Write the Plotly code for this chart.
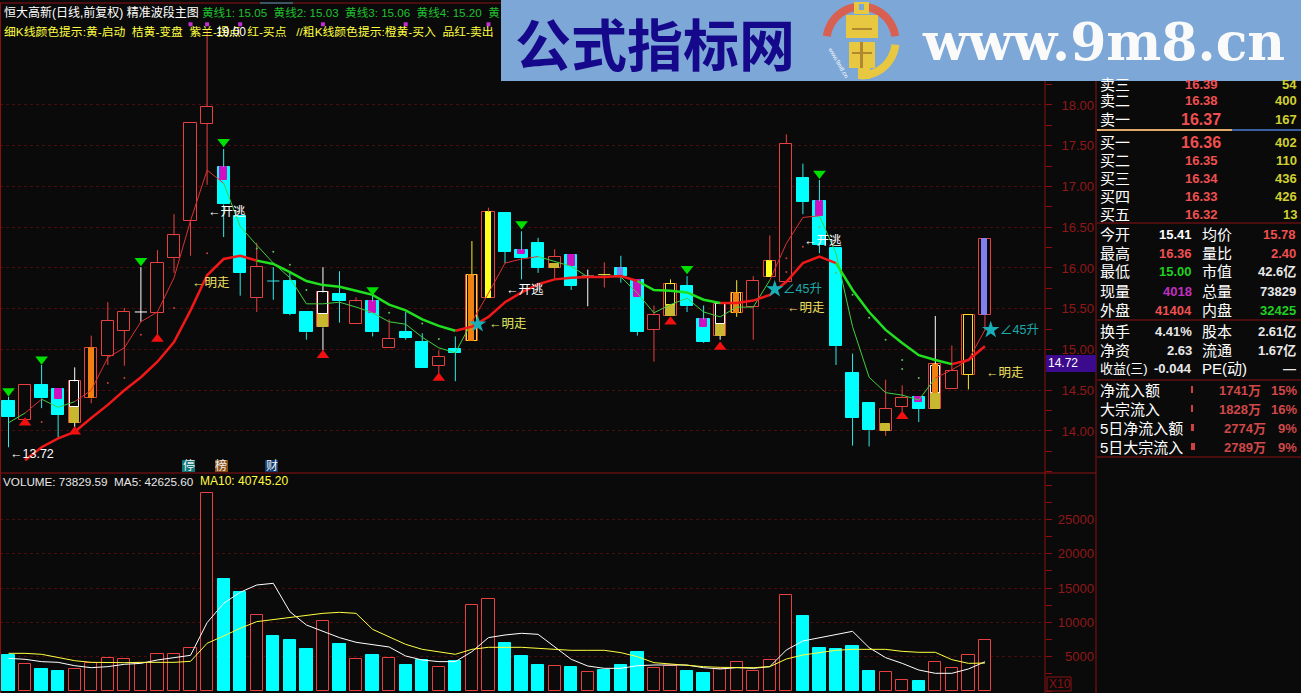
import math
import numpy as np
import plotly.graph_objects as go

W, H = 1301, 693
BG = "#0a0a0a"
CANDLE_RED = "#e84040"
CYAN = "#00ffff"
AXIS_RED = "#8c1010"
GRID_RED = "#4a0c0c"
FONT = "Liberation Sans, Noto Sans CJK SC"

# price candles, index 0 is the first bar on the left
body_top = [14.37, 14.56, 14.56, 14.51, 14.61, 15.02, 15.35, 15.46, 15.46, 16.06,
            16.40, 17.78, 17.98, 17.24, 16.64, 16.01, 15.84, 15.84, 15.46, 15.70,
            15.68, 15.59, 15.59, 15.13, 15.21, 15.09, 14.91, 15.00, 15.91, 16.69,
            16.67, 16.22, 16.31, 16.14, 16.16, 15.90, 15.92, 16.00, 15.85, 15.42,
            15.80, 15.78, 15.37, 15.56, 15.69, 15.84, 16.09, 17.52, 17.10, 16.82,
            16.24, 14.71, 14.34, 14.27, 14.41, 14.42, 14.82, 14.74, 15.42, 16.36]
body_bottom = [14.17, 14.14, 14.40, 14.20, 14.10, 14.40, 14.92, 15.23, 15.46, 15.45,
               16.12, 16.58, 17.77, 16.78, 15.94, 15.63, 15.84, 15.44, 15.21, 15.27,
               15.59, 15.31, 15.21, 15.02, 15.14, 14.77, 14.80, 14.96, 15.10, 15.63,
               16.20, 16.12, 16.00, 16.00, 15.78, 15.90, 15.92, 15.90, 15.22, 15.24,
               15.41, 15.53, 15.09, 15.17, 15.45, 15.52, 15.89, 15.83, 16.81, 16.28,
               15.04, 14.16, 14.01, 14.00, 14.30, 14.27, 14.27, 14.52, 14.69, 15.42]
high = [14.42, 14.56, 14.81, 14.51, 14.78, 15.17, 15.58, 15.51, 16.01, 16.22,
        16.66, 17.78, 18.92, 17.46, 16.64, 16.31, 16.01, 15.95, 15.46, 16.01,
        15.96, 15.64, 15.67, 15.37, 15.46, 15.20, 14.99, 15.16, 16.33, 16.74,
        16.67, 16.45, 16.37, 16.23, 16.16, 15.98, 16.07, 16.15, 15.85, 15.54,
        15.86, 15.90, 15.54, 15.56, 15.85, 15.90, 16.40, 17.64, 17.28, 17.08,
        16.24, 14.95, 14.34, 14.63, 14.56, 14.42, 15.41, 15.05, 15.42, 16.36]
low = [13.80, 14.14, 14.28, 13.90, 14.04, 14.34, 14.81, 14.80, 15.34, 15.18,
       15.94, 16.15, 17.02, 16.38, 15.66, 15.46, 15.61, 15.42, 15.12, 14.99,
       15.33, 15.31, 15.16, 15.02, 15.12, 14.77, 14.71, 14.61, 15.10, 15.63,
       16.06, 15.86, 15.94, 15.86, 15.73, 15.53, 15.76, 15.82, 15.17, 14.85,
       15.41, 15.46, 15.08, 15.12, 15.40, 15.12, 15.89, 15.83, 16.66, 16.18,
       14.81, 13.82, 13.81, 13.94, 14.24, 14.11, 14.27, 14.52, 14.51, 15.23]
falling_bars = [0, 2, 3, 13, 14, 16, 17, 18, 20, 22, 24, 25, 27, 30, 31, 32, 34, 37, 38,
                41, 42, 48, 49, 50, 51, 52, 55]
white_wick_bars = [4, 8, 19, 35, 43, 56]
yellow_wick_bars = [28, 40, 44, 58]
flat_bars = [8, 16, 35, 36]

# coloured parts inside the candles: bar index, upper price, lower price
magenta_parts = [(3, 14.51, 14.39), (13, 17.24, 17.08), (22, 15.59, 15.45), (31, 16.22, 16.17),
                 (34, 16.16, 16.02), (38, 15.85, 15.64), (42, 15.37, 15.28), (49, 16.82, 16.64),
                 (55, 14.42, 14.36)]
gold_parts = [(4, 14.29, 14.10), (19, 15.43, 15.27), (33, 16.05, 16.00), (40, 15.55, 15.41),
              (43, 15.31, 15.17), (53, 14.09, 14.00), (56, 14.46, 14.27)]
white_parts = [(4, 14.61, 14.29), (19, 15.70, 15.43), (43, 15.56, 15.31), (56, 14.80, 14.46)]
yellow_parts = [(28, 15.91, 15.10), (40, 15.80, 15.55), (44, 15.69, 15.45), (58, 15.42, 14.69)]
orange_stripes = [(5, 15.02, 14.40), (28, 15.91, 15.10), (44, 15.69, 15.45), (56, 14.82, 14.46)]
yellow_stripes = [(29, 16.69, 15.63), (46, 16.09, 15.89)]
blue_stripes = [(37, 16.00, 15.90), (59, 16.36, 15.42)]

# moving lines on the price panel
thin_line = [14.10, 14.22, 14.39, 14.29, 14.36, 14.50, 14.90, 15.02, 15.34, 15.46,
             15.88, 16.58, 17.20, 17.04, 16.51, 16.28, 16.06, 15.88, 15.56, 15.56,
             15.58, 15.52, 15.45, 15.34, 15.31, 15.15, 15.02, 14.96, 15.34, 15.69,
             16.06, 16.11, 16.14, 16.08, 16.02, 15.89, 15.90, 15.89, 15.69, 15.45,
             15.55, 15.63, 15.46, 15.40, 15.52, 15.52, 15.85, 16.30, 16.62, 16.64,
             16.18, 15.28, 14.66, 14.47, 14.44, 14.38, 14.65, 14.75, 14.87, 15.24]
thin_red_runs = [(1, 2), (4, 13), (28, 32), (46, 49), (56, 59)]
thin_green_runs = [(0, 1), (2, 4), (13, 28), (32, 46), (49, 56)]
thick_line = [None, 13.64, 13.80, 13.91, 13.99, 14.16, 14.32, 14.50, 14.66, 14.85,
              15.09, 15.48, 15.91, 16.11, 16.15, 16.09, 16.05, 15.95, 15.84, 15.79,
              15.77, 15.72, 15.67, 15.55, 15.48, 15.37, 15.29, 15.23, 15.28, 15.40,
              15.58, 15.70, 15.80, 15.86, 15.88, 15.89, 15.89, 15.90, 15.84, 15.73,
              15.72, 15.70, 15.61, 15.57, 15.57, 15.60, 15.67, 15.83, 16.06, 16.14,
              16.06, 15.73, 15.46, 15.24, 15.08, 14.93, 14.87, 14.82, 14.87, 15.04]
thick_red_runs = [(1, 15), (27, 38), (43, 50), (57, 59)]
thick_green_runs = [(15, 27), (38, 43), (50, 57)]

# faint dots between the lines
green_dot_bars = [15, 16, 17, 18, 23, 25, 26, 49, 50, 51, 52, 53, 54, 54, 55]
green_dot_prices = [16.24, 16.20, 16.04, 15.73, 15.45, 15.32, 15.13, 16.50, 15.94, 15.67, 15.39, 15.12, 14.87, 14.76, 14.65]
red_dot_bars = [2, 7, 6, 8, 10, 12, 47, 47, 48]
red_dot_prices = [14.11, 14.65, 14.59, 15.18, 15.51, 16.18, 16.12, 15.95, 16.26]

# signals
sell_bars = [0, 2, 8, 13, 22, 31, 41, 49]
sell_prices = [14.49, 14.88, 16.09, 17.55, 15.73, 16.54, 15.99, 17.16]
buy_bars = [1, 4, 9, 19, 26, 40, 43, 54]
buy_prices = [14.10, 13.99, 15.13, 14.93, 14.65, 15.34, 15.03, 14.18]
star_bars = [28.35, 46.3, 59.35]
star_prices = [15.31, 15.74, 15.24]
top_mark_bars = [11, 12, 14, 19, 24, 29]
top_mark_price = 18.99
chart_labels = [(0, 13.72, "←13.72", "#ffffff"), (12, 16.69, "←开逃", "#ffffff"),
                (11, 15.82, "←明走", "#f0e060"), (29, 15.31, "←明走", "#e0e860"),
                (30, 15.73, "←开逃", "#ffffff"), (46.75, 15.74, "∠45升", "#20a8a8"),
                (47, 15.51, "←明走", "#f0e060"), (48, 16.33, "←开逃", "#ffffff"),
                (59.85, 15.24, "∠45升", "#20a8a8"), (59, 14.71, "←明走", "#f0e060")]

# volume panel
volume = [5250, 3890, 3210, 2920, 3160, 4130, 4760, 4620, 4130, 5350,
          5350, 6220, 28820, 16330, 14430, 11030, 8020, 7440, 6120, 10250,
          6850, 4620, 5250, 4760, 3790, 4520, 3450, 4370, 12490, 13365,
          7000, 5100, 3790, 3600, 3500, 2720, 3110, 3790, 5690, 3300,
          3690, 2920, 2620, 3210, 4180, 2920, 4470, 13950, 10935, 6270,
          6120, 6560, 2920, 2720, 1555, 1460, 4180, 3300, 5200, 7383]
ma5 = [4760, 4620, 4280, 4180, 3690, 3400, 3550, 3890, 4030, 4520,
       4860, 5200, 9960, 12780, 14390, 15450, 15700, 11570, 9620, 8650,
       7780, 7100, 6710, 6415, 5100, 4520, 4280, 4280, 5735, 7780,
       8165, 8410, 8260, 6465, 4620, 3645, 3305, 3305, 3690, 3790,
       3790, 3790, 3400, 3210, 3400, 3305, 3550, 5980, 7290, 7780,
       8310, 8700, 6320, 4860, 4030, 3060, 2580, 2580, 3210, 4263]
ma10 = [5490, 5490, 5350, 4860, 4420, 4180, 4130, 4130, 4180, 4180,
        4180, 4325, 6950, 8020, 9140, 10110, 10400, 10740, 10980, 11320,
        11470, 11320, 8990, 7920, 6800, 6075, 5735, 5350, 6075, 6370,
        6370, 6370, 6220, 6075, 5930, 5930, 5930, 5590, 5000, 4130,
        3940, 3690, 3550, 3450, 3400, 3400, 3550, 4665, 5250, 5640,
        5930, 6075, 6075, 6075, 5780, 5640, 5640, 4570, 4030, 4075]
volume_ticks = [5000, 10000, 15000, 20000, 25000]
price_ticks = [14.0, 14.5, 15.0, 15.5, 16.0, 16.5, 17.0, 17.5, 18.0]

# quote panel text
ask_rows = [("卖三", "16.39", "54", 84), ("卖二", "16.38", "400", 101), ("卖一", "16.37", "167", 119),
            ("买一", "16.36", "402", 142), ("买二", "16.35", "110", 160), ("买三", "16.34", "436", 178),
            ("买四", "16.33", "426", 196), ("买五", "16.32", "13", 214)]
info_rows = [("今开", "15.41", "#ffffff", "均价", "15.78", "#f05050", 234),
             ("最高", "16.36", "#f05050", "量比", "2.40", "#f05050", 253),
             ("最低", "15.00", "#20d020", "市值", "42.6亿", "#e8e8e8", 272),
             ("现量", "4018", "#c030c0", "总量", "73829", "#e8e8e8", 291),
             ("外盘", "41404", "#f05050", "内盘", "32425", "#20d020", 310),
             ("换手", "4.41%", "#e8e8e8", "股本", "2.61亿", "#e8e8e8", 331),
             ("净资", "2.63", "#e8e8e8", "流通", "1.67亿", "#e8e8e8", 350),
             ("收益(三)", "-0.044", "#e8e8e8", "PE(动)", "—", "#e8e8e8", 369)]
flow_rows = [("净流入额", "1741万", "15%", 390, 1262, 2), ("大宗流入", "1828万", "16%", 409, 1262, 2),
             ("5日净流入额", "2774万", "9%", 428, 1267, 3), ("5日大宗流入", "2789万", "9%", 447, 1267, 4)]

BAR_X = 8.5
BAR_STEP = 16.55
PANEL_TOP, PANEL_SPLIT = 10, 473
indexes = list(range(len(volume)))


def px_x(x):
    return x / W


def px_y(y):
    return 1 - y / H


def wick_trace(bars, color):
    xs, ys = [], []
    for i in bars:
        xs += [i, i, None, i, i, None]
        ys += [high[i], body_top[i], None, body_bottom[i], low[i], None]
    return go.Scatter(x=xs, y=ys, mode="lines", line=dict(color=color, width=1), hoverinfo="skip")


def part_trace(parts, color, width, outline=None):
    return go.Bar(x=[p[0] for p in parts], y=[p[1] - p[2] for p in parts], base=[p[2] for p in parts],
                  width=width, marker=dict(color=color if outline is None else "rgba(0,0,0,0)",
                                           line=dict(color=outline if outline else color, width=1)),
                  hoverinfo="skip")


def run_trace(values, runs, color, width, xaxis="x", yaxis="y"):
    xs, ys = [], []
    for start, end in runs:
        xs += list(range(start, end + 1)) + [None]
        ys += values[start:end + 1] + [None]
    return go.Scatter(x=xs, y=ys, mode="lines", line=dict(color=color, width=width), hoverinfo="skip",
                      xaxis=xaxis, yaxis=yaxis)


fig = go.Figure()

# candle bodies first, then what goes inside them
body_bars = [i for i in indexes if i not in flat_bars]
fig.add_trace(go.Bar(
    x=body_bars,
    y=[body_top[i] - body_bottom[i] for i in body_bars],
    base=[body_bottom[i] for i in body_bars],
    width=0.74,
    marker=dict(color=[CYAN if i in falling_bars else BG for i in body_bars],
                line=dict(color=[CYAN if i in falling_bars else CANDLE_RED for i in body_bars], width=1)),
    hoverinfo="skip",
))
fig.add_trace(part_trace(magenta_parts, "#d010c0", 0.42))
fig.add_trace(part_trace(gold_parts, "#c8b830", 0.56))
fig.add_trace(part_trace(white_parts, BG, 0.56, outline="#ffffff"))
fig.add_trace(part_trace(yellow_parts, BG, 0.56, outline="#ffe020"))
fig.add_trace(part_trace(orange_stripes, "#f08010", 0.3))
fig.add_trace(part_trace(yellow_stripes, "#ffff20", 0.3))
fig.add_trace(part_trace(blue_stripes, "#8080f0", 0.3))

red_wicks = [i for i in indexes if i not in falling_bars + white_wick_bars + yellow_wick_bars]
fig.add_trace(wick_trace(red_wicks, CANDLE_RED))
fig.add_trace(wick_trace(falling_bars, "#30e8e8"))
fig.add_trace(wick_trace(white_wick_bars, "#ffffff"))
fig.add_trace(wick_trace(yellow_wick_bars, "#ffe830"))

# flat candles are a short horizontal stroke
for i in flat_bars:
    flat_color = {8: "#ffffff", 16: "#30e8e8", 35: "#ffffff", 36: "#d8e040"}[i]
    fig.add_trace(go.Scatter(x=[i - 0.37, i + 0.37], y=[body_top[i], body_top[i]], mode="lines",
                             line=dict(color=flat_color, width=1), hoverinfo="skip"))

fig.add_trace(go.Scatter(x=green_dot_bars, y=green_dot_prices, mode="markers", hoverinfo="skip",
                         marker=dict(size=2, color="#60c060")))
fig.add_trace(go.Scatter(x=red_dot_bars, y=red_dot_prices, mode="markers", hoverinfo="skip",
                         marker=dict(size=2, color="#c04040")))
fig.add_trace(run_trace(thin_line, thin_red_runs, "#e03030", 1))
fig.add_trace(run_trace(thin_line, thin_green_runs, "#40d040", 1))
fig.add_trace(run_trace(thick_line, thick_red_runs, "#f01818", 2.5))
fig.add_trace(run_trace(thick_line, thick_green_runs, "#20e020", 2.5))

fig.add_trace(go.Scatter(x=sell_bars, y=sell_prices, mode="markers", hoverinfo="skip",
                         marker=dict(symbol="triangle-down", size=11, color="#00e000")))
fig.add_trace(go.Scatter(x=buy_bars, y=buy_prices, mode="markers", hoverinfo="skip",
                         marker=dict(symbol="triangle-up", size=11, color="#f01010")))
fig.add_trace(go.Scatter(x=star_bars, y=star_prices, mode="markers", hoverinfo="skip",
                         marker=dict(symbol="star", size=13, color="#18b0b8")))
fig.add_trace(go.Scatter(x=top_mark_bars, y=[top_mark_price] * len(top_mark_bars), mode="markers", hoverinfo="skip",
                         marker=dict(symbol="square", size=4, color="#c030d0")))

# volume
vol_falling = [i in falling_bars for i in indexes]
vol_falling[8] = False
vol_falling[16] = True
vol_falling[35] = False
vol_falling[36] = True
fig.add_trace(go.Bar(
    x=indexes, y=volume, width=0.74, xaxis="x2", yaxis="y2",
    marker=dict(color=[CYAN if f else BG for f in vol_falling],
                line=dict(color=[CYAN if f else CANDLE_RED for f in vol_falling], width=1)),
    hoverinfo="skip",
))
fig.add_trace(go.Scatter(x=indexes, y=ma5, mode="lines", xaxis="x2", yaxis="y2",
                         line=dict(color="#ffffff", width=1), hoverinfo="skip"))
fig.add_trace(go.Scatter(x=indexes, y=ma10, mode="lines", xaxis="x2", yaxis="y2",
                         line=dict(color="#ffff40", width=1), hoverinfo="skip"))

# empty traces so that the tick-only axes get drawn
fig.add_trace(go.Scatter(x=[None], y=[None], yaxis="y3", hoverinfo="skip"))
fig.add_trace(go.Scatter(x=[None], y=[None], xaxis="x2", yaxis="y4", hoverinfo="skip"))

x_range = [(0 - BAR_X) / BAR_STEP, (1045 - BAR_X) / BAR_STEP]
price_range = [19.288 - PANEL_SPLIT / 81.5, 19.288 - PANEL_TOP / 81.5]
volume_range = [(691 - 693) / 34.3 * 5000, (691 - PANEL_SPLIT) / 34.3 * 5000]
main_domain = [px_y(PANEL_SPLIT), px_y(PANEL_TOP)]
volume_domain = [0, px_y(PANEL_SPLIT)]
label_font = dict(family=FONT, size=13, color="#901818")

fig.update_layout(
    width=W, height=H, autosize=False,
    margin=dict(l=0, r=0, t=0, b=0),
    paper_bgcolor=BG, plot_bgcolor=BG,
    showlegend=False, barmode="overlay", bargap=0,
    xaxis=dict(domain=[0, 1045 / W], range=x_range, visible=False, anchor="y"),
    xaxis2=dict(domain=[0, 1045 / W], range=x_range, visible=False, anchor="y2"),
    yaxis=dict(domain=main_domain, range=price_range, anchor="free", position=1094 / W, side="left",
               tickvals=price_ticks, ticktext=["%.2f" % v for v in price_ticks], tickfont=label_font,
               ticks="", showline=False, zeroline=False, showgrid=True,
               gridcolor=GRID_RED, griddash="dot", gridwidth=1),
    yaxis2=dict(domain=volume_domain, range=volume_range, anchor="free", position=1094 / W, side="left",
                tickvals=volume_ticks, ticktext=[str(v) for v in volume_ticks], tickfont=label_font,
                ticks="", showline=False, zeroline=False, showgrid=True,
                gridcolor=GRID_RED, griddash="dot", gridwidth=1),
    yaxis3=dict(domain=main_domain, range=price_range, overlaying="y", anchor="free", position=1045 / W,
                side="right", dtick=0.25, tick0=14, ticks="outside", ticklen=6, tickcolor=AXIS_RED,
                showticklabels=False, showgrid=False, zeroline=False),
    yaxis4=dict(domain=volume_domain, range=volume_range, overlaying="y2", anchor="free", position=1045 / W,
                side="right", dtick=2500, tick0=0, ticks="outside", ticklen=6, tickcolor=AXIS_RED,
                showticklabels=False, showgrid=False, zeroline=False),
)


def hline(y, x0, x1, color=AXIS_RED, width=1):
    fig.add_shape(type="line", xref="paper", yref="paper", x0=px_x(x0), x1=px_x(x1), y0=px_y(y), y1=px_y(y),
                  line=dict(color=color, width=width), layer="above")


def vline(x, y0, y1, color=AXIS_RED, width=1):
    fig.add_shape(type="line", xref="paper", yref="paper", x0=px_x(x), x1=px_x(x), y0=px_y(y0), y1=px_y(y1),
                  line=dict(color=color, width=width), layer="above")


def box(x0, y0, x1, y1, color):
    fig.add_shape(type="rect", xref="paper", yref="paper", x0=px_x(x0), x1=px_x(x1), y0=px_y(y0), y1=px_y(y1),
                  fillcolor=color, line=dict(width=0), layer="above")


def text(x, y, s, color="#ffffff", size=13, anchor="left", bold=False, family=FONT, angle=0):
    fig.add_annotation(xref="paper", yref="paper", x=px_x(x), y=px_y(y), text="<b>%s</b>" % s if bold else s,
                       showarrow=False, xanchor=anchor, yanchor="middle", borderpad=0, textangle=angle,
                       font=dict(family=family, size=size, color=color))


# frame
hline(3, 0, W)
hline(PANEL_SPLIT, 0, 1096)
vline(0.5, 3, H)
vline(1045, 3, H)
vline(1096, 3, H)
hline(130, 1097, 1232, "#e0a868", 2)
hline(130, 1232, W, "#3860a0", 2)
hline(223, 1097, W)
hline(320, 1097, W)
hline(380, 1097, W)
hline(457, 1097, W)
hline(3, 260, 293, "#30a0c0")

# header lines
text(3, 13, "恒大高新(日线,前复权) 精准波段主图", size=12)
text(201, 13, "黄线1: 15.05  黄线2: 15.03  黄线3: 15.06  黄线4: 15.20  黄", "#20c030", 11.6)
text(3, 32, "细K线颜色提示:黄-启动  桔黄-变盘  紫兰-拐点  红-买点   //粗K线颜色提示:橙黄-买入  品红-卖出", "#ffff40", 11.8)
text(215, 32, "19.00", "#ffffff", 12)
text(1.5, 481, "VOLUME: 73829.59  MA5: 42625.60", "#e8e8e8", 11.7)
text(199, 481, "MA10: 40745.20", "#ffff40", 12)

# labels on the price chart
for bar, price, label, color in chart_labels:
    fig.add_annotation(x=bar, y=price, xref="x", yref="y", text=label, showarrow=False, xanchor="left",
                       yanchor="middle", borderpad=0, font=dict(family=FONT, size=12.5, color=color))

# event tags under the candles
for x0, label, color in [(182, "停", "#0e7878"), (215, "榜", "#8a5018"), (265, "财", "#103a70")]:
    box(x0, 460, x0 + 13, 472, color)
    text(x0 + 6.5, 466, label, "#f0f0f0", 12, "center")

# quote panel
for label, price, vol, y in ask_rows:
    text(1099, y, label, "#ffffff", 15)
    big = price in ("16.37", "16.36")
    text(1222 if big else 1219, y, price, "#f05050", 16 if big else 13, "right", True)
    text(1298, y, vol, "#d0d030", 13, "right", True)
for label, val, val_color, label2, val2, val2_color, y in info_rows:
    text(1099, y, label, "#ffffff", 13 if label == "收益(三)" else 15)
    text(1193, y, val, val_color, 13, "right", True)
    text(1201, y, label2, "#ffffff", 15)
    text(1297, y, val2, val2_color, 13, "right", True)
for label, amount, share, y, amount_right, mark_w in flow_rows:
    text(1099, y, label, "#ffffff", 15)
    box(1191, y - 4, 1191 + mark_w, y + 3, "#d04040")
    text(amount_right, y, amount, "#d04848", 13, "right", True)
    text(1298, y, share, "#d04848", 13, "right", True)

box(1046, 355, 1096, 372, "#3c0a8c")
text(1047, 363, "14.72", "#ffffff", 12)
fig.add_shape(type="rect", xref="paper", yref="paper", x0=px_x(1047), x1=px_x(1071), y0=px_y(677), y1=px_y(691),
              line=dict(color=AXIS_RED, width=1), layer="above")
text(1048, 684, "X10", AXIS_RED, 12)

# watermark banner
box(501, 0, W, 81, "#7ca7d6")
text(514, 41, "公式指标网", "#16088a", 56, bold=True, family="Noto Sans CJK SC")
text(921, 41, "www.9m8.cn", "#fafafa", 52, bold=True, family="DejaVu Serif")


def arc_path(cx, cy, r_out, r_in, start, end):
    angles = np.radians(np.linspace(start, end, 30))
    outer = [(cx + r_out * math.cos(a), cy - r_out * math.sin(a)) for a in angles]
    inner = [(cx + r_in * math.cos(a), cy - r_in * math.sin(a)) for a in angles[::-1]]
    pts = outer + inner
    return "M" + " L".join("%.5f,%.5f" % (px_x(x), px_y(y)) for x, y in pts) + " Z"


# logo: red arcs on top, yellow arc bottom right, coin shape in the middle
fig.add_shape(type="path", xref="paper", yref="paper", path=arc_path(861, 41, 38.5, 30.5, 8, 172),
              fillcolor="#d86050", line=dict(width=0), layer="above")
fig.add_shape(type="path", xref="paper", yref="paper", path=arc_path(861, 41, 38.5, 30.5, -90, -6),
              fillcolor="#e8c840", line=dict(width=0), layer="above")
box(854, 2, 869, 14, "#e8c840")
box(859, 4, 864, 10, "#7ca7d6")
box(846, 15, 878, 38, "#e8c840")
box(849, 42, 875, 68, "#e8c840")
box(858, 68, 870, 79, "#e8c840")
box(852, 28, 872, 30, "#b08830")
box(852, 52, 872, 54, "#b08830")
box(860, 42, 863, 68, "#b08830")
text(838, 62, "www.9m8.cn", "#ffffff", 6, "center", angle=60)

# the default body margin would push the chart 8px off the window
fig.write_html("out.html", config=dict(displayModeBar=False), post_script="document.body.style.margin='0';")
